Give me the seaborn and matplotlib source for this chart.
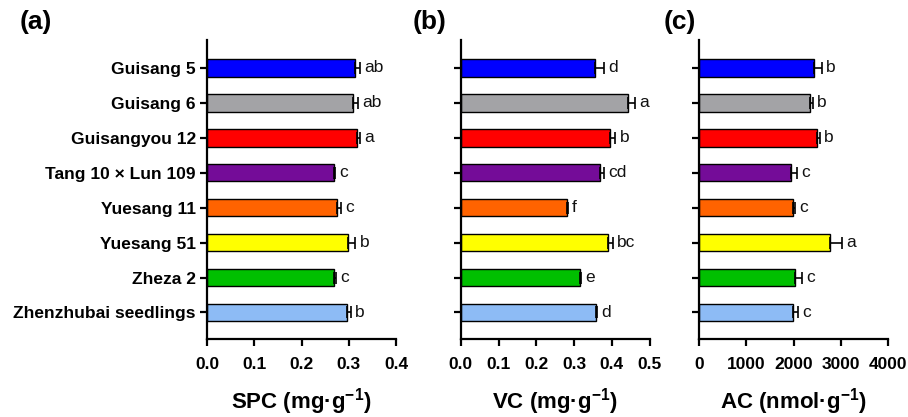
import matplotlib
matplotlib.use("Agg")
import matplotlib.pyplot as plt
import seaborn as sns
import numpy as np

categories = ["Guisang 5", "Guisang 6", "Guisangyou 12", "Tang 10 × Lun 109",
              "Yuesang 11", "Yuesang 51", "Zheza 2", "Zhenzhubai seedlings"]
colors = ["#0000FF", "#A3A3A6", "#FF0000", "#740C98",
          "#FF6300", "#FFFF00", "#00BF00", "#8DBBF5"]

spc_mean = [0.313, 0.309, 0.317, 0.268, 0.275, 0.298, 0.269, 0.296]
spc_se = [0.010, 0.011, 0.007, 0.003, 0.009, 0.016, 0.004, 0.009]
spc_letters = ["ab", "ab", "a", "c", "c", "b", "c", "b"]

vc_mean = [0.356, 0.442, 0.396, 0.369, 0.280, 0.389, 0.315, 0.357]
vc_se = [0.022, 0.020, 0.013, 0.010, 0.004, 0.014, 0.004, 0.004]
vc_letters = ["d", "a", "b", "cd", "f", "bc", "e", "d"]

ac_mean = [2430, 2345, 2493, 1944, 1993, 2768, 2028, 1993]
ac_se = [170, 60, 70, 130, 40, 260, 160, 95]
ac_letters = ["b", "b", "b", "c", "c", "a", "c", "c"]

sns.set_theme(style="ticks")
plt.rcParams["font.family"] = ["Liberation Sans", "DejaVu Sans"]

fig = plt.figure(figsize=(9.08, 4.17), dpi=100)

panels = [
    ("(a)", spc_mean, spc_se, spc_letters, (0, 0.4), [0.0, 0.1, 0.2, 0.3, 0.4],
     ["0.0", "0.1", "0.2", "0.3", "0.4"], "SPC (mg·g$\\mathregular{^{-1}}$)", 207, 20),
    ("(b)", vc_mean, vc_se, vc_letters, (0, 0.5), [0.0, 0.1, 0.2, 0.3, 0.4, 0.5],
     ["0.0", "0.1", "0.2", "0.3", "0.4", "0.5"], "VC (mg·g$\\mathregular{^{-1}}$)", 460.7, 413),
    ("(c)", ac_mean, ac_se, ac_letters, (0, 4000), [0, 1000, 2000, 3000, 4000],
     ["0", "1000", "2000", "3000", "4000"], "AC (nmol·g$\\mathregular{^{-1}}$)", 699, 664),
]

W, H = 908, 417
for i, (lab, mean, se, letters, xlim, xt, xtl, xlabel, left_px, lab_px) in enumerate(panels):
    ax = fig.add_axes([left_px / W, (H - 339) / H, 189 / W, (339 - 40) / H])
    sns.barplot(x=mean, y=categories, hue=categories, palette=colors, legend=False,
                width=0.5, edgecolor="black", linewidth=1.0, orient="h", ax=ax,
                saturation=1)
    ypos = np.arange(len(categories))
    ax.errorbar(mean, ypos, xerr=[np.zeros(len(mean)), se], fmt="none",
                ecolor="black", elinewidth=1.2, capsize=4, capthick=1.2, zorder=5)
    for y, m, s, t in zip(ypos, mean, se, letters):
        ax.annotate(t, xy=(m + s, y), xytext=(3, 0), textcoords="offset points",
                    ha="left", va="center", fontsize=12.5, color="#111111")
    ax.set_xlim(*xlim)
    ax.set_ylim(7.76, -0.8)
    ax.set_xticks(xt)
    ax.set_xticklabels(xtl, fontsize=12.5, fontweight="bold")
    ax.set_ylabel("")
    ax.set_xlabel(xlabel, fontsize=16, fontweight="bold", labelpad=10, color="black")
    ax.set_yticks(ypos)
    if i == 0:
        ax.set_yticklabels(categories, fontsize=12.5, fontweight="bold")
    else:
        ax.set_yticklabels([])
    for sp in ["top", "right"]:
        ax.spines[sp].set_visible(False)
    for sp in ["left", "bottom"]:
        ax.spines[sp].set_linewidth(1.6)
        ax.spines[sp].set_color("black")
    ax.tick_params(axis="both", direction="out", length=5, width=1.6, color="black",
                   labelcolor="black", pad=3)
    ax.tick_params(axis="x", pad=8)
    fig.text(lab_px / W, (H - 22) / H, lab, fontsize=19, fontweight="bold",
             ha="left", va="center", color="black")

fig.savefig("out.png", dpi=100)
